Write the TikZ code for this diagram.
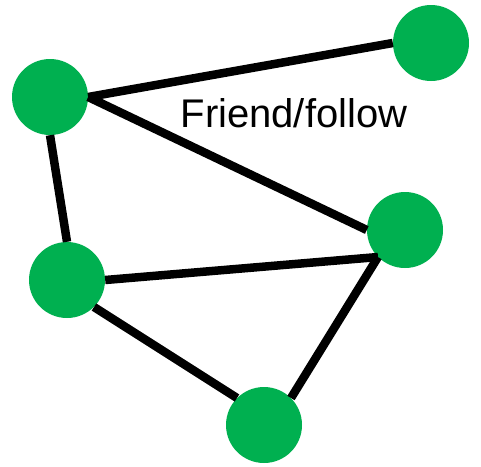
\documentclass[tikz,border=0pt]{standalone}
\usepackage{fontspec}
\setmainfont{Liberation Sans}
\definecolor{netgreen}{RGB}{0,176,80}
\tikzset{
  member/.style={circle,fill=netgreen,minimum size=76pt,inner sep=0pt},
  tie/.style={line width=8.5pt,black}
}

\begin{document}
\begin{tikzpicture}[x=1pt,y=-1pt]
  \useasboundingbox (0,0) rectangle (481,466);

  \node[member] (A) at (50,97) {};
  \node[member] (B) at (431,43) {};
  \node[member] (C) at (405,230) {};
  \node[member] (D) at (67,280) {};
  \node[member] (E) at (264,425) {};

  \draw[tie] (A.east)--(B.west);
  \draw[tie] (A.east)--(C.west);
  \draw[tie] (A.south)--(D.north);
  \draw[tie] (D.east)--(C.south west);
  \draw[tie] (D.south east)--(E.north west);
  \draw[tie] (C.south west)--(E.north east);

  \node[anchor=base,font=\fontsize{40}{48}\selectfont] (lbl) at (294,127) {Friend/follow};
\end{tikzpicture}
\end{document}
